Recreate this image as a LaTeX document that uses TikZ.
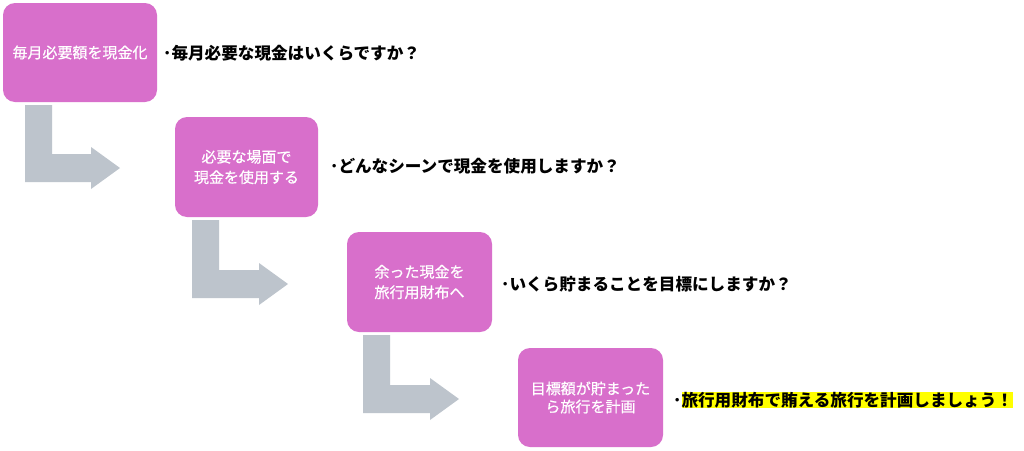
\documentclass[tikz,border=0pt]{standalone}
\usepackage{fontspec}
\setmainfont{Noto Sans CJK JP}
\definecolor{boxpink}{HTML}{D86FCB}
\definecolor{arrowgrey}{HTML}{BDC4CC}
\definecolor{hl}{HTML}{FFFF00}
\tikzset{
  stepbox/.style={fill=boxpink, draw=none, rounded corners=12pt, text=white,
    align=center, inner sep=0pt, font=\fontsize{15}{20.5}\selectfont\addfontfeatures{FakeBold=0.7}},
  question/.style={anchor=west, inner sep=0pt, text=black,
    font=\fontsize{16.6}{20}\selectfont\bfseries},
  blockarrow/.style={fill=arrowgrey, draw=none}
}
% #1 x of left side of vertical bar, #2 top y, #3 tip x, #4 tip y
\newcommand{\myblockarrow}[4]{%
  \fill[blockarrow] (#1,#2) -- (#1+27,#2) -- (#1+27,#4-14) -- (#3-29,#4-14)
    -- (#3-29,#4-21) -- (#3,#4) -- (#3-29,#4+21) -- (#3-29,#4+14)
    -- (#1,#4+14) -- cycle;}
\begin{document}
\begin{tikzpicture}[x=1pt,y=-1pt]
\useasboundingbox (0,0) rectangle (1024,450);
\fill[white] (0,0) rectangle (1024,450);

\node[stepbox, minimum width=154pt, minimum height=99pt] (b1) at (80,52.5) {毎月必要額を現金化};
\node[stepbox, minimum width=143pt, minimum height=100pt] (b2) at (246.5,167) {必要な場面で\\現金を使用する};
\node[stepbox, minimum width=145pt, minimum height=100pt] (b3) at (419.5,282) {余った現金を\\旅行用財布へ};
\node[stepbox, minimum width=145pt, minimum height=99pt, font=\fontsize{15}{18}\selectfont\addfontfeatures{FakeBold=0.7}] (b4) at (590.5,397.5) {目標額が貯まった\\ら旅行を計画};

\myblockarrow{25}{105}{120}{168}
\myblockarrow{192}{220}{288}{284}
\myblockarrow{363}{335}{459}{399}

\node[question] (q1) at (163,53) {･毎月必要な現金はいくらですか？};
\node[question] (q2) at (330,166) {･どんなシーンで現金を使用しますか？};
\node[question] (q3) at (501,284) {･いくら貯まることを目標にしますか？};
\node[question] (q4) at (673,400) {･{\fboxsep=0pt\colorbox{hl}{旅行用財布で賄える旅行を計画しましょう！}}};
\end{tikzpicture}
\end{document}
